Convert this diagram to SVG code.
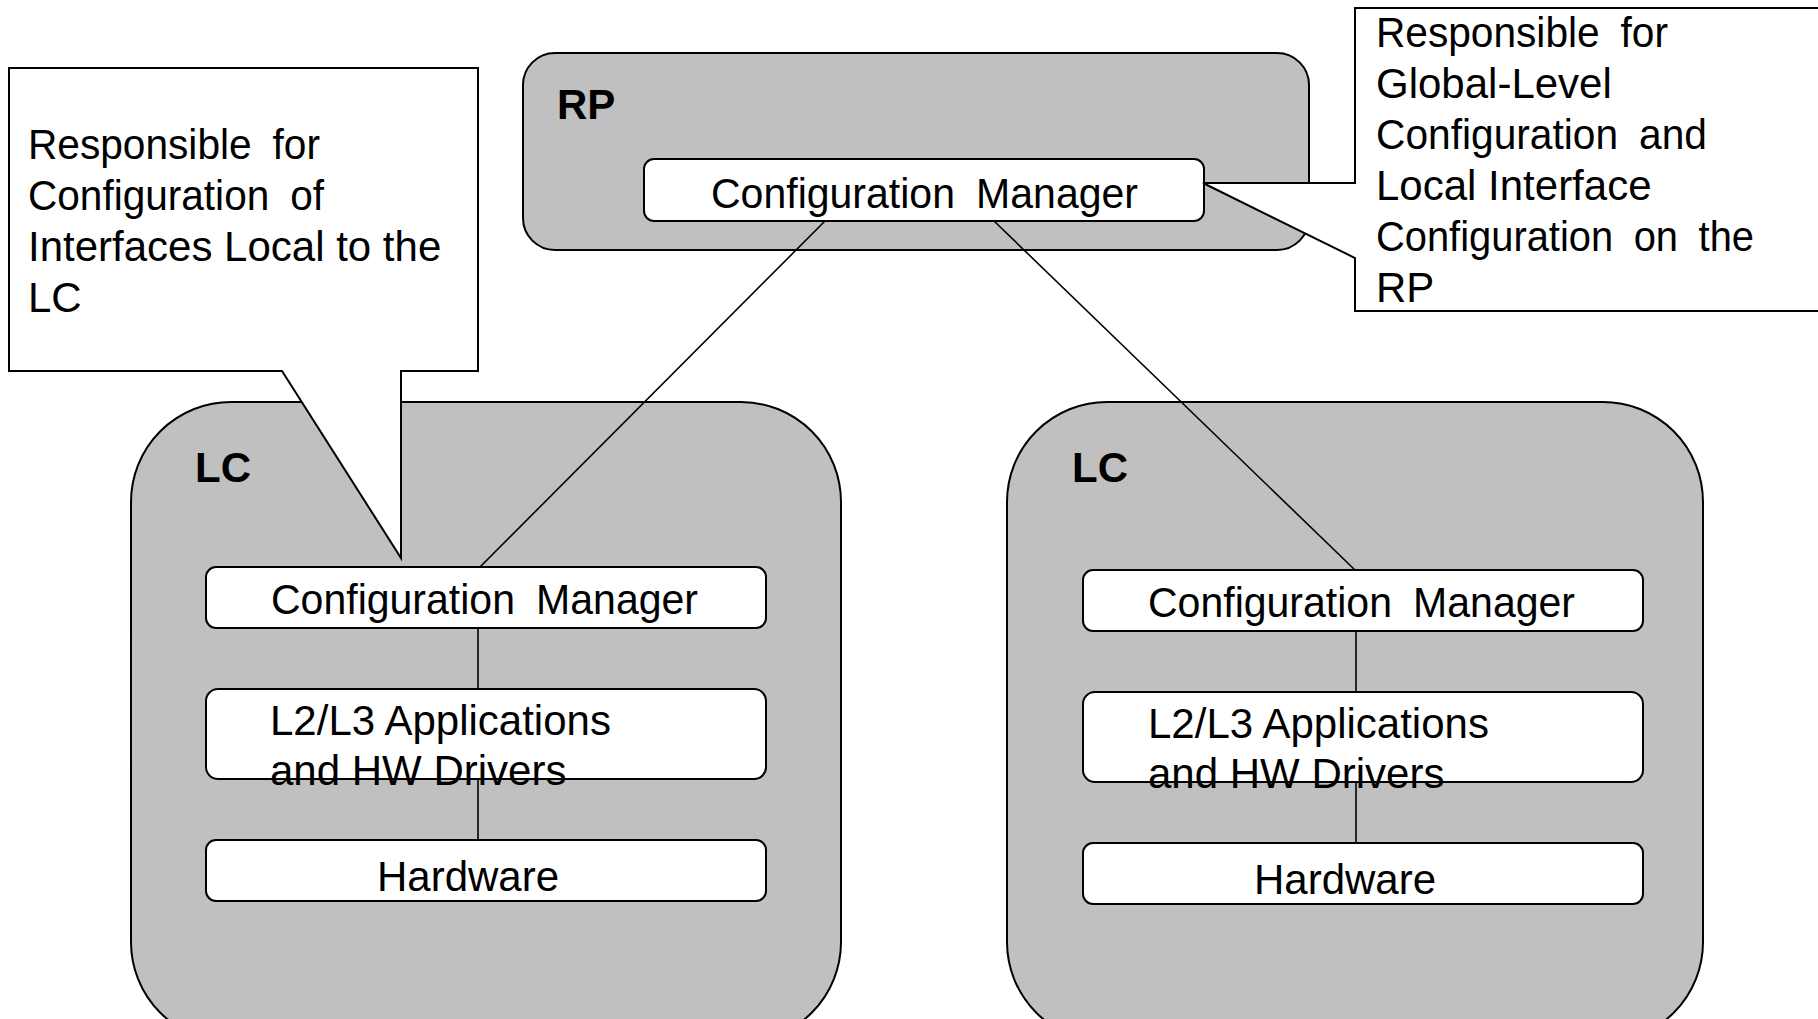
<svg xmlns="http://www.w3.org/2000/svg" width="1818" height="1019" viewBox="0 0 1818 1019">
  <style>
    .container { fill: #C0C0C0; stroke: #000; stroke-width: 2; }
    .box { fill: #FFFFFF; stroke: #000; stroke-width: 2; }
    .callout { fill: #FFFFFF; stroke: #000; stroke-width: 2; stroke-linejoin: miter; }
    .link { fill: none; stroke: #000; stroke-width: 1.6; }
    .t { font-family: "Liberation Sans", Arial, sans-serif; font-size: 42px; fill: #000; }
    .wide { word-spacing: 10px; }
    .label { font-family: "Liberation Sans", Arial, sans-serif; font-size: 42px; font-weight: bold; fill: #000; }
  </style>

  <rect width="1818" height="1019" fill="#FFFFFF"/>

  <!-- Route processor -->
  <g id="rp">
    <rect class="container" x="523" y="53" width="786" height="197" rx="32" ry="32"/>
    <text class="label" x="557" y="119">RP</text>
  </g>

  <!-- Line cards -->
  <g id="lc-left">
    <rect class="container" x="131" y="402" width="710" height="640" rx="100" ry="100"/>
    <text class="label" x="195" y="482">LC</text>
  </g>
  <g id="lc-right">
    <rect class="container" x="1007" y="402" width="696" height="640" rx="100" ry="100"/>
    <text class="label" x="1072" y="482">LC</text>
  </g>

  <!-- Connectors -->
  <g id="connectors">
    <line class="link" x1="825" y1="221" x2="480" y2="567"/>
    <line class="link" x1="994" y1="221" x2="1355" y2="570"/>
    <line class="link" x1="478" y1="628" x2="478" y2="689"/>
    <line class="link" x1="478" y1="779" x2="478" y2="840"/>
    <line class="link" x1="1356" y1="631" x2="1356" y2="692"/>
    <line class="link" x1="1356" y1="782" x2="1356" y2="843"/>
  </g>

  <!-- RP configuration manager -->
  <g id="rp-cm">
    <rect class="box" x="644" y="159" width="560" height="62" rx="10" ry="10"/>
    <text class="t wide" x="711" y="208" textLength="427" lengthAdjust="spacingAndGlyphs">Configuration Manager</text>
  </g>

  <!-- Left line card stack -->
  <g id="lc-left-cm">
    <rect class="box" x="206" y="567" width="560" height="61" rx="10" ry="10"/>
    <text class="t wide" x="271" y="614" textLength="427" lengthAdjust="spacingAndGlyphs">Configuration Manager</text>
  </g>
  <g id="lc-left-apps">
    <rect class="box" x="206" y="689" width="560" height="90" rx="12" ry="12"/>
    <text class="t" x="270" y="735">L2/L3 Applications</text>
    <text class="t" x="270" y="785">and HW Drivers</text>
  </g>
  <g id="lc-left-hw">
    <rect class="box" x="206" y="840" width="560" height="61" rx="10" ry="10"/>
    <text class="t" x="377" y="891">Hardware</text>
  </g>

  <!-- Right line card stack -->
  <g id="lc-right-cm">
    <rect class="box" x="1083" y="570" width="560" height="61" rx="10" ry="10"/>
    <text class="t wide" x="1148" y="617" textLength="427" lengthAdjust="spacingAndGlyphs">Configuration Manager</text>
  </g>
  <g id="lc-right-apps">
    <rect class="box" x="1083" y="692" width="560" height="90" rx="12" ry="12"/>
    <text class="t" x="1148" y="738">L2/L3 Applications</text>
    <text class="t" x="1148" y="788">and HW Drivers</text>
  </g>
  <g id="lc-right-hw">
    <rect class="box" x="1083" y="843" width="560" height="61" rx="10" ry="10"/>
    <text class="t" x="1254" y="894">Hardware</text>
  </g>

  <!-- Callout for the line card configuration manager -->
  <g id="callout-lc">
    <path class="callout" d="M9,68 H478 V371 H401 V558 L282,371 H9 Z"/>
    <text class="t wide" x="28" y="159" textLength="292" lengthAdjust="spacingAndGlyphs">Responsible for</text>
    <text class="t wide" x="28" y="210" textLength="296" lengthAdjust="spacingAndGlyphs">Configuration of</text>
    <text class="t" x="28" y="261">Interfaces Local to the</text>
    <text class="t" x="28" y="312">LC</text>
  </g>

  <!-- Callout for the RP configuration manager -->
  <g id="callout-rp">
    <path class="callout" d="M1355,8 H1830 V311 H1355 V258 L1203,183 H1355 Z"/>
    <text class="t wide" x="1376" y="47" textLength="292" lengthAdjust="spacingAndGlyphs">Responsible for</text>
    <text class="t" x="1376" y="98">Global-Level</text>
    <text class="t wide" x="1376" y="149" textLength="331" lengthAdjust="spacingAndGlyphs">Configuration and</text>
    <text class="t" x="1376" y="200">Local Interface</text>
    <text class="t wide" x="1376" y="251" textLength="378" lengthAdjust="spacingAndGlyphs">Configuration on the</text>
    <text class="t" x="1376" y="302">RP</text>
  </g>
</svg>
